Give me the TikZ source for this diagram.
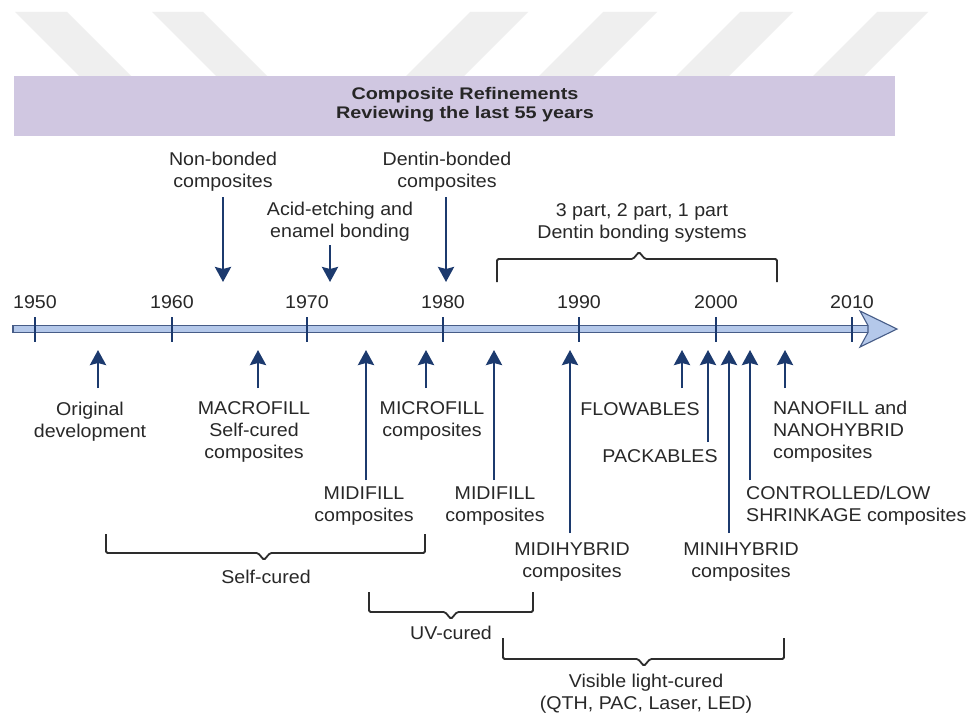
\documentclass[tikz,border=0pt]{standalone}
\usepackage{fontspec}
\setmainfont{Liberation Sans}[FakeStretch=1.06]
\newfontfamily\bannerfont{Liberation Sans}[FakeStretch=1.18]
\usetikzlibrary{arrows.meta}
\definecolor{navy}{RGB}{28,58,110}
\definecolor{txt}{RGB}{40,40,40}
\definecolor{brkc}{RGB}{45,45,45}
\definecolor{barfill}{RGB}{180,200,234}
\definecolor{barline}{RGB}{70,92,135}
\definecolor{banner}{RGB}{208,199,225}
\definecolor{wmark}{RGB}{239,239,239}
\begin{document}
\begin{tikzpicture}[x=1pt,y=-1pt,
  lbl/.style={font=\fontsize{18.5}{22}\selectfont, text=txt, inner sep=0pt, align=center},
  lbll/.style={font=\fontsize{18.5}{22}\selectfont, text=txt, inner sep=0pt, align=left},
  upar/.style={navy, line width=2.7pt, -{Stealth[length=15pt,width=16pt,inset=2pt]}},
  tickmark/.style={navy, line width=2.2pt},
  brk/.style={draw=brkc, line width=1.8pt, rounded corners=1.5pt}]
\useasboundingbox (0,0) rectangle (971,717);
\fill[white] (0,0) rectangle (971,717);
% watermark stripes
\fill[wmark] (15,12) -- (67,12) -- (131,76) -- (79,76) -- cycle;
\fill[wmark] (152,12) -- (203,12) -- (267,76) -- (216,76) -- cycle;
\fill[wmark] (470,12) -- (528,12) -- (464,76) -- (406,76) -- cycle;
\fill[wmark] (603,12) -- (657,12) -- (593,76) -- (539,76) -- cycle;
\fill[wmark] (740,12) -- (793,12) -- (729,76) -- (676,76) -- cycle;
\fill[wmark] (877,12) -- (928,12) -- (864,76) -- (813,76) -- cycle;
% banner
\fill[banner] (14,76) rectangle (895,136);
\node[font=\bannerfont\bfseries\fontsize{16.8}{19.5}\selectfont, text=black!85, align=center, inner sep=0pt] (title) at (465,104.5) {Composite Refinements\\Reviewing the last 55 years};
% timeline bar
\draw[fill=barfill, draw=barline, line width=1.1pt] (13,325.5) rectangle (871,332.5);
\draw[fill=barfill, draw=barline, line width=1.1pt, line join=miter] (897,329) -- (860,311) -- (868,325.5) -- (868,332.5) -- (860,347) -- cycle;
% ticks and years
\foreach \yr/\xx in {1950/35,1960/172,1970/307,1980/443,1990/579,2000/716,2010/852}{
  \draw[tickmark] (\xx,317) -- (\xx,342);
  \node[lbl] (y\yr) at (\xx,302) {\yr};
}
% top labels and down arrows
\node[lbl] (nonbonded) at (223,172) {Non-bonded\\composites};
\node[lbl] (acid) at (340,221.5) {Acid-etching and\\enamel bonding};
\node[lbl] (dentin) at (447,172) {Dentin-bonded\\composites};
\node[lbl] (parts) at (642,222.5) {3 part, 2 part, 1 part\\Dentin bonding systems};
\coordinate (d1s) at (223,197); \coordinate (d1e) at (223,282);
\coordinate (d2s) at (330,245); \coordinate (d2e) at (330,282);
\coordinate (d3s) at (446,197); \coordinate (d3e) at (446,282);
\draw[upar] (d1s) -- (d1e);
\draw[upar] (d2s) -- (d2e);
\draw[upar] (d3s) -- (d3e);
% top bracket
\draw[brk] (497,282) -- (497,259) -- (633,259) -- (639,252) -- (645,259) -- (777,259) -- (777,282);
% bottom labels
\node[lbl] (orig) at (90,421.5) {Original\\development};
\node[lbl] (macro) at (254,432) {MACROFILL\\Self-cured\\composites};
\node[lbl] (micro) at (432,421) {MICROFILL\\composites};
\node[lbl] (midiL) at (364,506.5) {MIDIFILL\\composites};
\node[lbl] (midiR) at (495,506.5) {MIDIFILL\\composites};
\node[lbl] (midihyb) at (572,562) {MIDIHYBRID\\composites};
\node[lbl] (flow) at (640,409) {FLOWABLES};
\node[lbl] (pack) at (660,456) {PACKABLES};
\node[lbl] (minihyb) at (741,562) {MINIHYBRID\\composites};
\node[lbll, anchor=west] (ctrl) at (746,506) {CONTROLLED/LOW\\SHRINKAGE composites};
\node[lbll, anchor=west] (nano) at (773,432) {NANOFILL and\\NANOHYBRID\\composites};
% up arrows
\foreach \n/\xx/\yy in {a1/98/388, a2/258/388, a3/366/480, a4/426/388, a5/494/480, a6/570/533, a7/682/388, a8/708/442, a9/729/533, a10/750/480, a11/785/388}{
  \coordinate (\n s) at (\xx,\yy);
  \coordinate (\n e) at (\xx,350);
  \draw[upar] (\n s) -- (\n e);
}
% brackets below
\draw[brk] (106,534) -- (106,553) -- (258,553) -- (264,560) -- (270,553) -- (425,553) -- (425,534);
\node[lbl] (self) at (266,577) {Self-cured};
\draw[brk] (369,592) -- (369,612) -- (445,612) -- (451,619) -- (457,612) -- (533,612) -- (533,592);
\node[lbl] (uv) at (451,633) {UV-cured};
\draw[brk] (503,638) -- (503,659) -- (638,659) -- (644,666) -- (650,659) -- (784,659) -- (784,638);
\node[lbl] (vis) at (646,694) {Visible light-cured\\(QTH, PAC, Laser, LED)};
\end{tikzpicture}
\end{document}
